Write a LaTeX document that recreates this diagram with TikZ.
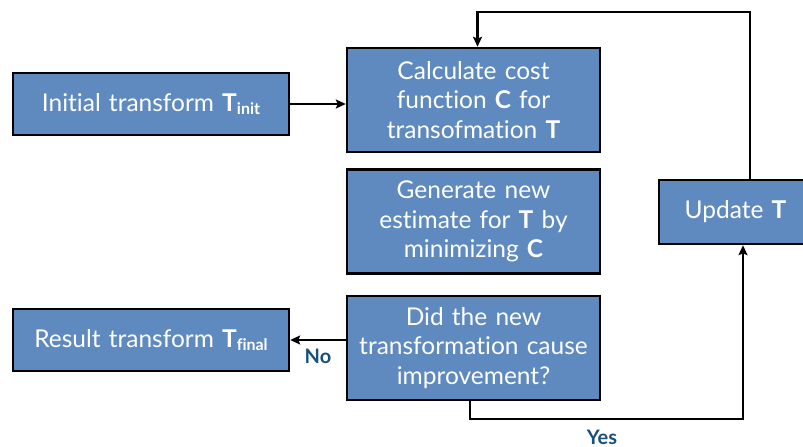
\documentclass[tikz,border=0pt]{standalone}
\usepackage{fontspec}
\setmainfont{Lato}[Ligatures={NoCommon}]
\usetikzlibrary{arrows.meta,positioning}
\definecolor{boxblue}{RGB}{94,138,192}
\definecolor{labelblue}{RGB}{24,80,128}
\newcommand{\Tsub}[1]{\textbf{T}\raisebox{-0.3ex}{\fontsize{16}{16}\selectfont\bfseries #1}}

\begin{document}
\begin{tikzpicture}[x=1pt, y=1pt,
    node distance=15pt and 58pt,
    box/.style={draw, line width=2.4pt, fill=boxblue, text=white, align=center, inner sep=0pt,
      font=\fontsize{24.5}{29.5}\selectfont, text width=253pt, minimum height=104pt},
    wide/.style={box, text width=276pt, minimum height=62pt},
    arr/.style={-{Stealth[length=10pt, width=9pt, inset=2pt]}, line width=2.2pt},
    lbl/.style={font=\bfseries\fontsize{20}{20}\selectfont, text=labelblue}
  ]
    \useasboundingbox (0,0) rectangle (803,447);
    \node[box] (calc) at (473.5,347) {Calculate cost\\function \textbf{C} for\\transofmation \textbf{T}};
    \node[box, below=of calc] (gen) {Generate new\\estimate for \textbf{T} by\\minimizing \textbf{C}};
    \node[box, below=20pt of gen] (did) {Did the new\\transformation cause\\improvement?};
    \node[wide] (init) at (151,343) {Initial transform \Tsub{init}};
    \node[wide] (res) at (151,107) {Result transform \Tsub{final}};
    \node[box, text width=153pt, minimum height=64pt] (upd) at (735.5,235) {Update \textbf{T}};
    \coordinate (top) at (750,435);
    \coordinate (bot) at (743,28);
    \draw[arr] (init) -- (init -| calc.west);
    \draw[arr] (upd.north -| top) -- (top) -| ([xshift=4pt]calc.north);
    \draw[arr] ([xshift=-3.5pt]did.south) |- (bot) -- (upd.south -| bot);
    \draw[arr] (did.west |- res.east) -- (res.east);
    \node[lbl] (yes) at (602,10) {Yes};
    \node[lbl] (no) at (318,91) {No};
  \end{tikzpicture}
\end{document}
